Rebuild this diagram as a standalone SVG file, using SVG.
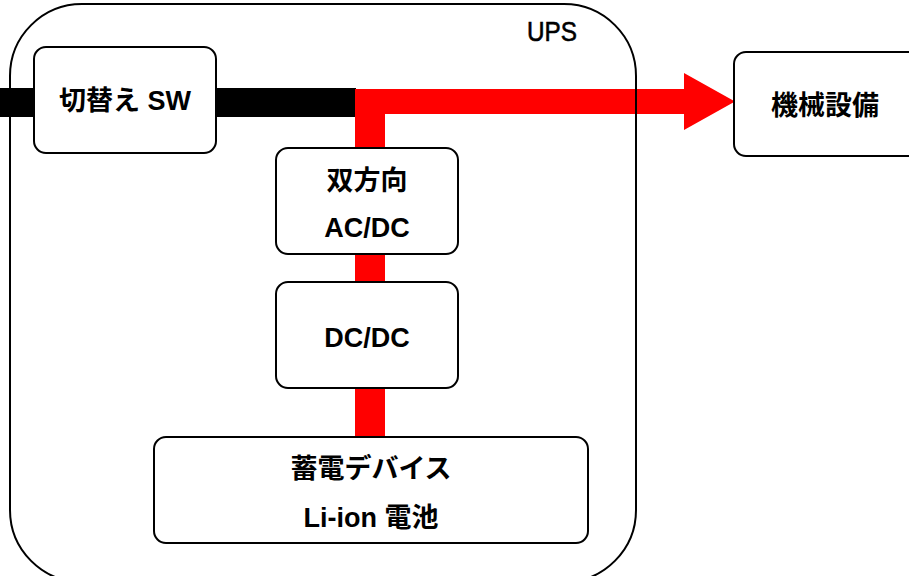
<svg xmlns="http://www.w3.org/2000/svg" width="909" height="576" viewBox="0 0 909 576">
<style>
.box{fill:#fff;stroke:#000;stroke-width:2}
.t{font-family:"Liberation Sans","Noto Sans CJK JP",sans-serif;font-size:27px;font-weight:bold;text-anchor:middle;fill:#000}
</style>
<rect x="0" y="0" width="909" height="576" fill="#fff"/>
<g id="connectors">
<rect x="0" y="88" width="356" height="29" fill="#000"/>
<path d="M355,89 L684,89 L684,73 L735,101.5 L684,130 L684,114 L385,114 L385,437 L355,437 Z" fill="#f00"/>
</g>
<g id="ups">
<rect x="10" y="4" width="626" height="578" rx="72" fill="none" stroke="#000" stroke-width="2"/>
<text x="552" y="41" class="t" style="font-weight:normal;font-size:27px;stroke:#000;stroke-width:0.6" textLength="50" lengthAdjust="spacingAndGlyphs">UPS</text>
</g>
<g id="switch">
<rect class="box" x="34" y="47" width="182" height="106" rx="12"/>
<text x="125" y="110" class="t">切替え SW</text>
</g>
<g id="acdc">
<rect class="box" x="276" y="148" width="182" height="106" rx="12"/>
<text x="367" y="190" class="t">双方向</text>
<text x="367" y="237" class="t">AC/DC</text>
</g>
<g id="dcdc">
<rect class="box" x="276" y="282" width="182" height="106" rx="12"/>
<text x="367" y="347" class="t">DC/DC</text>
</g>
<g id="battery">
<rect class="box" x="154" y="437" width="434" height="106" rx="12"/>
<text x="371" y="478" class="t">蓄電デバイス</text>
<text x="371" y="527" class="t">Li-ion 電池</text>
</g>
<g id="machine">
<rect class="box" x="734" y="52" width="200" height="104" rx="12"/>
<text x="825" y="115" class="t">機械設備</text>
</g>
</svg>
